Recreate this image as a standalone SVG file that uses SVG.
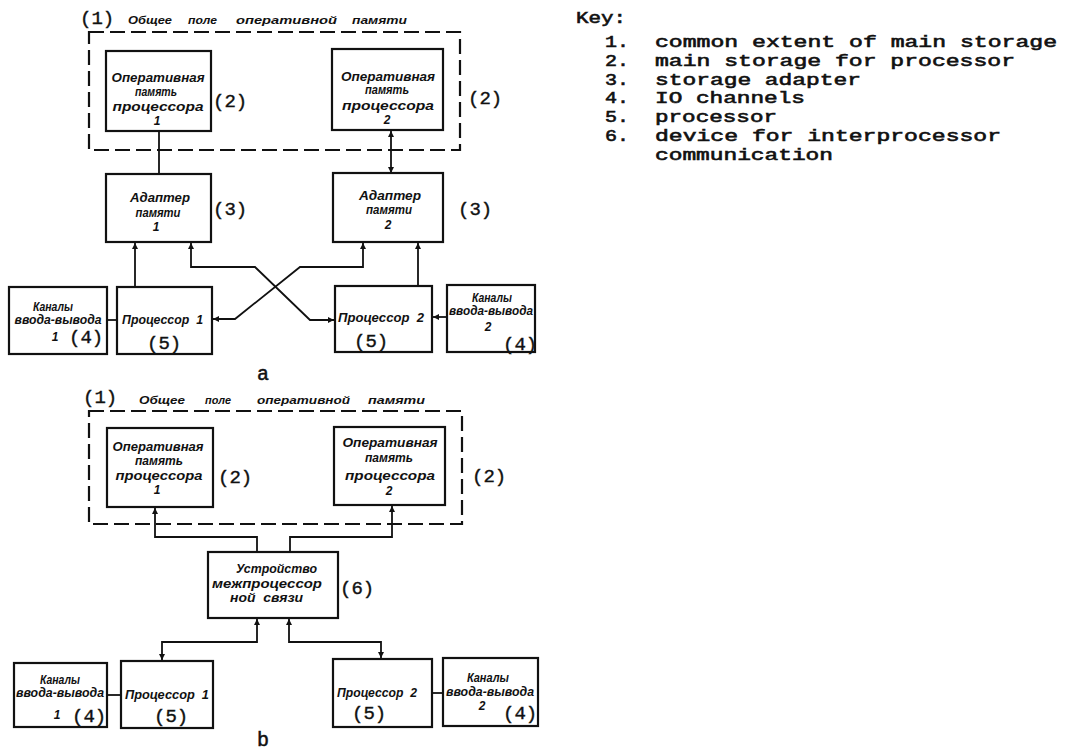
<svg xmlns="http://www.w3.org/2000/svg" width="1075" height="750" viewBox="0 0 1075 750">
  <style>
    .box { fill: none; stroke: #111; stroke-width: 2.2; }
    .dash { fill: none; stroke: #111; stroke-width: 2.2; stroke-dasharray: 15 6; }
    .ln { fill: none; stroke: #111; stroke-width: 1.8; }
    .ru { font-family: "Liberation Sans", "DejaVu Sans", sans-serif; font-style: italic; font-weight: bold; font-size: 12px; fill: #111; text-anchor: middle; }
    .rs { font-family: "Liberation Sans", "DejaVu Sans", sans-serif; font-style: italic; font-weight: bold; font-size: 12px; fill: #111; }
    .ti { font-family: "Liberation Sans", "DejaVu Sans", sans-serif; font-style: italic; font-weight: bold; font-size: 10px; fill: #111; }
    .tag { font-family: "Liberation Mono", "DejaVu Sans Mono", monospace; font-size: 19px; fill: #111; stroke: #111; stroke-width: 0.4; }
    .cap { font-family: "Liberation Mono", "DejaVu Sans Mono", monospace; font-size: 20px; fill: #111; stroke: #111; stroke-width: 0.5; text-anchor: middle; }
    .key { font-family: "Liberation Mono", "DejaVu Sans Mono", monospace; font-size: 16.5px; fill: #111; stroke: #111; stroke-width: 0.6; }
  </style>
  <defs>
    <marker id="ah" viewBox="0 0 10 10" refX="10" refY="5" markerWidth="7" markerHeight="6" markerUnits="userSpaceOnUse" orient="auto-start-reverse">
      <path d="M0,0 L10,5 L0,10 z" fill="#111"/>
    </marker>
  </defs>
  <rect width="1075" height="750" fill="#fff"/>

  <!-- ===== Variant a: two processors with storage adapters ===== -->
  <g id="a-common-storage">
    <rect class="dash" x="89" y="32" width="371" height="118"/>
    <text class="tag" x="80" y="24">(1)</text>
    <text class="ti" x="128" y="24" textLength="44" lengthAdjust="spacingAndGlyphs">Общее</text>
    <text class="ti" x="188" y="24" textLength="29" lengthAdjust="spacingAndGlyphs">поле</text>
    <text class="ti" x="236" y="24" textLength="101" lengthAdjust="spacingAndGlyphs">оперативной</text>
    <text class="ti" x="352" y="24" textLength="55" lengthAdjust="spacingAndGlyphs">памяти</text>
  </g>
  <g id="a-mem1">
    <rect class="box" x="106" y="51" width="105" height="80"/>
    <text class="ru" x="158" y="82" textLength="93" lengthAdjust="spacingAndGlyphs">Оперативная</text>
    <text class="ru" x="156" y="96" textLength="42" lengthAdjust="spacingAndGlyphs">память</text>
    <text class="ru" x="158" y="111" textLength="91" lengthAdjust="spacingAndGlyphs">процессора</text>
    <text class="ru" x="157" y="125">1</text>
    <text class="tag" x="213" y="107">(2)</text>
  </g>
  <g id="a-mem2">
    <rect class="box" x="332" y="49" width="111" height="81"/>
    <text class="ru" x="388" y="81" textLength="94" lengthAdjust="spacingAndGlyphs">Оперативная</text>
    <text class="ru" x="387" y="94" textLength="44" lengthAdjust="spacingAndGlyphs">память</text>
    <text class="ru" x="388" y="110" textLength="92" lengthAdjust="spacingAndGlyphs">процессора</text>
    <text class="ru" x="387" y="124">2</text>
    <text class="tag" x="468" y="104">(2)</text>
  </g>
  <g id="a-adapter1">
    <rect class="box" x="106" y="174" width="105" height="68"/>
    <text class="ru" x="160" y="202" textLength="60" lengthAdjust="spacingAndGlyphs">Адаптер</text>
    <text class="ru" x="158" y="217" textLength="45" lengthAdjust="spacingAndGlyphs">памяти</text>
    <text class="ru" x="156" y="231">1</text>
    <text class="tag" x="213" y="215">(3)</text>
  </g>
  <g id="a-adapter2">
    <rect class="box" x="333" y="173" width="110" height="69"/>
    <text class="ru" x="390" y="200" textLength="62" lengthAdjust="spacingAndGlyphs">Адаптер</text>
    <text class="ru" x="389" y="214" textLength="46" lengthAdjust="spacingAndGlyphs">памяти</text>
    <text class="ru" x="388" y="229">2</text>
    <text class="tag" x="458" y="215">(3)</text>
  </g>
  <g id="a-io1">
    <rect class="box" x="9" y="287" width="98" height="67"/>
    <text class="ru" x="53" y="311" textLength="40" lengthAdjust="spacingAndGlyphs">Каналы</text>
    <text class="ru" x="58" y="324" textLength="87" lengthAdjust="spacingAndGlyphs">ввода-вывода</text>
    <text class="ru" x="55" y="341">1</text>
    <text class="tag" x="69" y="343">(4)</text>
  </g>
  <g id="a-cpu1">
    <rect class="box" x="117" y="287" width="95" height="67"/>
    <text class="rs" x="122" y="324" textLength="81" lengthAdjust="spacingAndGlyphs" xml:space="preserve">Процессор  1</text>
    <text class="tag" x="147" y="349">(5)</text>
  </g>
  <g id="a-cpu2">
    <rect class="box" x="335" y="286" width="97" height="66"/>
    <text class="rs" x="338" y="322" textLength="86" lengthAdjust="spacingAndGlyphs" xml:space="preserve">Процессор  2</text>
    <text class="tag" x="354" y="347">(5)</text>
  </g>
  <g id="a-io2">
    <rect class="box" x="447" y="285" width="88" height="67"/>
    <text class="ru" x="492" y="302" textLength="40" lengthAdjust="spacingAndGlyphs">Каналы</text>
    <text class="ru" x="491" y="315" textLength="84" lengthAdjust="spacingAndGlyphs">ввода-вывода</text>
    <text class="ru" x="488" y="331">2</text>
    <text class="tag" x="503" y="350">(4)</text>
  </g>
  <g id="a-connectors">
    <line class="ln" x1="159" y1="131" x2="159" y2="174"/>
    <line class="ln" x1="391" y1="131" x2="391" y2="173" marker-start="url(#ah)" marker-end="url(#ah)"/>
    <line class="ln" x1="135" y1="287" x2="135" y2="243" marker-end="url(#ah)"/>
    <polyline class="ln" points="191,243 191,267 255,267 310,320 334,320" marker-start="url(#ah)" marker-end="url(#ah)"/>
    <polyline class="ln" points="363,243 363,267 300,267 235,319 213,319" marker-start="url(#ah)" marker-end="url(#ah)"/>
    <line class="ln" x1="418" y1="286" x2="418" y2="243" marker-end="url(#ah)"/>
    <line class="ln" x1="107" y1="320" x2="117" y2="320"/>
    <line class="ln" x1="447" y1="317" x2="433" y2="317" marker-end="url(#ah)"/>
  </g>
  <text class="cap" x="263" y="380">a</text>

  <!-- ===== Variant b: two processors with interprocessor device ===== -->
  <g id="b-common-storage">
    <rect class="dash" x="89" y="411" width="373" height="113"/>
    <text class="tag" x="83" y="403">(1)</text>
    <text class="ti" x="139" y="404" textLength="46" lengthAdjust="spacingAndGlyphs">Общее</text>
    <text class="ti" x="205" y="404" textLength="26" lengthAdjust="spacingAndGlyphs">поле</text>
    <text class="ti" x="257" y="404" textLength="93" lengthAdjust="spacingAndGlyphs">оперативной</text>
    <text class="ti" x="368" y="404" textLength="57" lengthAdjust="spacingAndGlyphs">памяти</text>
  </g>
  <g id="b-mem1">
    <rect class="box" x="107" y="428" width="106" height="79"/>
    <text class="ru" x="158" y="451" textLength="91" lengthAdjust="spacingAndGlyphs">Оперативная</text>
    <text class="ru" x="159" y="465" textLength="48" lengthAdjust="spacingAndGlyphs">память</text>
    <text class="ru" x="159" y="480" textLength="87" lengthAdjust="spacingAndGlyphs">процессора</text>
    <text class="ru" x="157" y="494">1</text>
    <text class="tag" x="218" y="483">(2)</text>
  </g>
  <g id="b-mem2">
    <rect class="box" x="334" y="427" width="111" height="78"/>
    <text class="ru" x="390" y="447" textLength="95" lengthAdjust="spacingAndGlyphs">Оперативная</text>
    <text class="ru" x="389" y="462" textLength="48" lengthAdjust="spacingAndGlyphs">память</text>
    <text class="ru" x="390" y="480" textLength="90" lengthAdjust="spacingAndGlyphs">процессора</text>
    <text class="ru" x="389" y="495">2</text>
    <text class="tag" x="472" y="482">(2)</text>
  </g>
  <g id="b-ipc">
    <rect class="box" x="208" y="552" width="130" height="66"/>
    <text class="rs" x="236" y="573" textLength="81" lengthAdjust="spacingAndGlyphs">Устройство</text>
    <text class="rs" x="212" y="588" textLength="110" lengthAdjust="spacingAndGlyphs">межпроцессор</text>
    <text class="rs" x="230" y="602" textLength="73" lengthAdjust="spacingAndGlyphs" xml:space="preserve">ной  связи</text>
    <text class="tag" x="340" y="594">(6)</text>
  </g>
  <g id="b-io1">
    <rect class="box" x="14" y="663" width="93" height="64"/>
    <text class="ru" x="60" y="684" textLength="40" lengthAdjust="spacingAndGlyphs">Каналы</text>
    <text class="ru" x="60" y="697" textLength="88" lengthAdjust="spacingAndGlyphs">ввода-вывода</text>
    <text class="ru" x="57" y="719">1</text>
    <text class="tag" x="72" y="722">(4)</text>
  </g>
  <g id="b-cpu1">
    <rect class="box" x="121" y="661" width="92" height="67"/>
    <text class="rs" x="125" y="699" textLength="84" lengthAdjust="spacingAndGlyphs" xml:space="preserve">Процессор  1</text>
    <text class="tag" x="154" y="722">(5)</text>
  </g>
  <g id="b-cpu2">
    <rect class="box" x="333" y="659" width="99" height="68"/>
    <text class="rs" x="337" y="697" textLength="80" lengthAdjust="spacingAndGlyphs" xml:space="preserve">Процессор  2</text>
    <text class="tag" x="352" y="719">(5)</text>
  </g>
  <g id="b-io2">
    <rect class="box" x="443" y="658" width="95" height="68"/>
    <text class="ru" x="488" y="682" textLength="42" lengthAdjust="spacingAndGlyphs">Каналы</text>
    <text class="ru" x="490" y="696" textLength="88" lengthAdjust="spacingAndGlyphs">ввода-вывода</text>
    <text class="ru" x="482" y="710">2</text>
    <text class="tag" x="503" y="719">(4)</text>
  </g>
  <g id="b-connectors">
    <polyline class="ln" points="155,508 155,537 257,537 257,552" marker-start="url(#ah)"/>
    <polyline class="ln" points="392,506 392,537 290,537 290,552" marker-start="url(#ah)"/>
    <polyline class="ln" points="257,619 257,642 162,642 162,660" marker-start="url(#ah)" marker-end="url(#ah)"/>
    <polyline class="ln" points="289,619 289,642 381,642 381,658" marker-start="url(#ah)" marker-end="url(#ah)"/>
    <line class="ln" x1="107" y1="695" x2="121" y2="695"/>
    <line class="ln" x1="432" y1="693" x2="443" y2="693"/>
  </g>
  <text class="cap" x="263" y="746">b</text>

  <!-- ===== Key ===== -->
  <g id="key">
    <text class="key" x="576" y="23" textLength="50" lengthAdjust="spacingAndGlyphs">Key:</text>
    <text class="key" x="605" y="47" textLength="24" lengthAdjust="spacingAndGlyphs">1.</text>
    <text class="key" x="655" y="47" textLength="402" lengthAdjust="spacingAndGlyphs">common extent of main storage</text>
    <text class="key" x="605" y="65.8" textLength="24" lengthAdjust="spacingAndGlyphs">2.</text>
    <text class="key" x="655" y="65.8" textLength="360" lengthAdjust="spacingAndGlyphs">main storage for processor</text>
    <text class="key" x="605" y="84.6" textLength="24" lengthAdjust="spacingAndGlyphs">3.</text>
    <text class="key" x="655" y="84.6" textLength="206" lengthAdjust="spacingAndGlyphs">storage adapter</text>
    <text class="key" x="605" y="103.4" textLength="24" lengthAdjust="spacingAndGlyphs">4.</text>
    <text class="key" x="655" y="103.4" textLength="150" lengthAdjust="spacingAndGlyphs">IO channels</text>
    <text class="key" x="605" y="122.2" textLength="24" lengthAdjust="spacingAndGlyphs">5.</text>
    <text class="key" x="655" y="122.2" textLength="122" lengthAdjust="spacingAndGlyphs">processor</text>
    <text class="key" x="605" y="141" textLength="24" lengthAdjust="spacingAndGlyphs">6.</text>
    <text class="key" x="655" y="141" textLength="346" lengthAdjust="spacingAndGlyphs">device for interprocessor</text>
    <text class="key" x="655" y="159.8" textLength="178" lengthAdjust="spacingAndGlyphs">communication</text>
  </g>
</svg>
